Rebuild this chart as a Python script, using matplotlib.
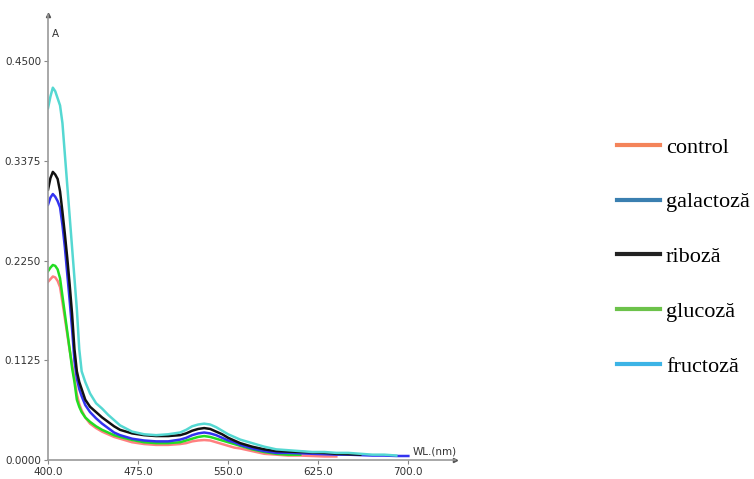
import numpy as np
import matplotlib
matplotlib.use("Agg")
import matplotlib.pyplot as plt
from matplotlib.lines import Line2D

# wavelength grid (nm)
wl = [400, 402, 404, 406, 408, 410, 412, 414, 416, 418, 420, 422, 424, 426, 428,
      431, 435, 440, 445, 450, 455, 460, 470, 480, 490, 500, 510, 515, 520, 525,
      530, 535, 540, 545, 550, 555, 560, 570, 580, 590, 600, 610, 620, 630, 640,
      650, 660, 670, 680, 690, 700]

# absorbance readings, each series stops where its scan ends
control = [0.201, 0.204, 0.207, 0.206, 0.202, 0.195, 0.178, 0.160, 0.142, 0.124,
           0.108, 0.092, 0.074, 0.063, 0.056, 0.048, 0.041, 0.036, 0.032, 0.029,
           0.026, 0.024, 0.020, 0.018, 0.017, 0.017, 0.018, 0.019, 0.021, 0.022,
           0.0225, 0.022, 0.020, 0.018, 0.016, 0.014, 0.013, 0.010, 0.007, 0.006,
           0.005, 0.005, 0.0045, 0.004, 0.004]
galactoza = [0.288, 0.296, 0.300, 0.297, 0.292, 0.285, 0.265, 0.240, 0.210, 0.180,
             0.148, 0.112, 0.092, 0.080, 0.072, 0.062, 0.054, 0.047, 0.041, 0.036,
             0.031, 0.028, 0.024, 0.022, 0.021, 0.021, 0.023, 0.025, 0.028, 0.030,
             0.031, 0.030, 0.028, 0.025, 0.022, 0.020, 0.017, 0.013, 0.010, 0.008,
             0.008, 0.0075, 0.007, 0.0065, 0.006, 0.006, 0.0055, 0.005, 0.005,
             0.0045, 0.0045]
riboza = [0.305, 0.318, 0.325, 0.322, 0.317, 0.303, 0.280, 0.255, 0.228, 0.198,
          0.165, 0.125, 0.100, 0.088, 0.080, 0.068, 0.060, 0.054, 0.048, 0.043,
          0.038, 0.034, 0.030, 0.028, 0.027, 0.027, 0.028, 0.030, 0.033, 0.035,
          0.036, 0.035, 0.032, 0.029, 0.025, 0.022, 0.019, 0.015, 0.012, 0.010,
          0.0095, 0.009, 0.0085, 0.008, 0.007, 0.0065, 0.006]
glucoza = [0.213, 0.217, 0.220, 0.219, 0.215, 0.205, 0.185, 0.165, 0.145, 0.125,
           0.104, 0.088, 0.068, 0.060, 0.054, 0.048, 0.043, 0.038, 0.034, 0.031,
           0.028, 0.026, 0.0226, 0.020, 0.019, 0.019, 0.020, 0.022, 0.024, 0.026,
           0.027, 0.026, 0.024, 0.022, 0.020, 0.018, 0.016, 0.012, 0.009, 0.007,
           0.006, 0.006]
fructoza = [0.397, 0.410, 0.420, 0.416, 0.408, 0.400, 0.380, 0.345, 0.310, 0.275,
            0.240, 0.205, 0.170, 0.125, 0.100, 0.088, 0.075, 0.064, 0.058, 0.051,
            0.045, 0.039, 0.032, 0.029, 0.028, 0.029, 0.031, 0.034, 0.038, 0.040,
            0.041, 0.040, 0.037, 0.033, 0.029, 0.026, 0.023, 0.019, 0.015, 0.012,
            0.011, 0.010, 0.009, 0.009, 0.008, 0.008, 0.007, 0.006, 0.006, 0.005]

labels = ["control", "galactoză", "riboză", "glucoză", "fructoză"]
yticks = [0.0, 0.1125, 0.225, 0.3375, 0.45]
xticks = [400, 475, 550, 625, 700]

series = [control, glucoza, galactoza, riboza, fructoza]
line_cols = ["#ff8080", "#22dd22", "#3333f0", "#111111", "#55d8d2"]
legend_cols = ["#f4845a", "#3a7fb0", "#222222", "#6cc24a", "#3cb4e6"]

fig = plt.figure(figsize=(7.54, 4.79), dpi=100)
ax = fig.add_axes([0.0637, 0.0397, 0.54, 0.929])

for vals, c in zip(series, line_cols):
    ax.plot(wl[:len(vals)], vals, color=c, lw=1.8, solid_joinstyle="round")

ax.set_xlim(400, 739)
ax.set_ylim(0, 0.502)

tick_font = ["Liberation Sans Narrow", "DejaVu Sans"]
ax.set_xticks(xticks)
ax.set_xticklabels([f"{v:.1f}" for v in xticks], family=tick_font, fontsize=7.5, color="#333333")
ax.set_yticks(yticks)
ax.set_yticklabels([f"{v:.4f}" for v in yticks], family=tick_font, fontsize=7.5, color="#333333")
ax.tick_params(direction="out", length=3, width=0.8, color="#888888", pad=2)

for s in ["top", "right"]:
    ax.spines[s].set_visible(False)
for s in ["left", "bottom"]:
    ax.spines[s].set_color("#999999")
    ax.spines[s].set_linewidth(1.2)

# axis arrows
ax.plot(1, 0, ">", color="#555555", ms=3, transform=ax.get_yaxis_transform(), clip_on=False)
ax.plot(400, 1, "^", color="#555555", ms=3, transform=ax.get_xaxis_transform(), clip_on=False)

ax.text(403, 0.477, "A", family=tick_font, fontsize=7.5, color="#333333")
ax.text(704, 0.006, "WL.(nm)", family=tick_font, fontsize=7.5, color="#333333")

handles = [Line2D([], [], color=c, lw=3) for c in legend_cols]
fig.legend(handles, labels, loc="upper left", bbox_to_anchor=(0.804, 0.737),
           frameon=False, prop={"family": "Liberation Serif", "size": 16},
           handlelength=1.92, handletextpad=0.26, labelspacing=1.54, borderpad=0)

fig.savefig("out.png", dpi=100)
